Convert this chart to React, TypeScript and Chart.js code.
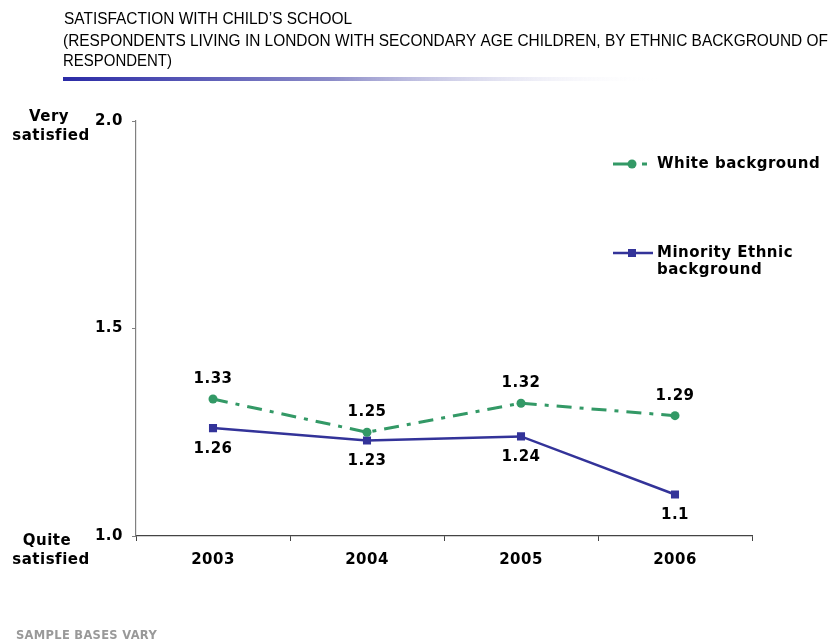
import React, { useEffect, useRef } from "react";
import { Chart, registerables } from "chart.js";

Chart.register(...registerables);

const years = ["2003", "2004", "2005", "2006"];
const whiteValues = [1.33, 1.25, 1.32, 1.29];
const minorityValues = [1.26, 1.23, 1.24, 1.1];
const yTickValues = [1.0, 1.5, 2.0];
const seriesNames = ["White background", "Minority Ethnic background"];
const legendLines = [["White background"], ["Minority Ethnic", "background"]];
const topSideLabel = ["Very", "satisfied"];
const bottomSideLabel = ["Quite", "satisfied"];
const titleLines = [
  "SATISFACTION WITH CHILD\u2019S SCHOOL",
  "(RESPONDENTS LIVING IN LONDON WITH SECONDARY AGE CHILDREN, BY ETHNIC BACKGROUND OF",
  "RESPONDENT)",
];
const footnote = "SAMPLE BASES VARY";

const GREEN = "#339966";
const BLUE = "#333399";
const BOLD = 'bold 15px "DejaVu Sans", Verdana, sans-serif';

const spacingPlugin = {
  id: "spacing",
  beforeUpdate(chart: any) {
    chart.ctx.letterSpacing = "0.5px";
  },
  beforeDraw(chart: any) {
    chart.ctx.letterSpacing = "0.5px";
  },
};

const decorPlugin = {
  id: "decor",
  afterDatasetsDraw(chart: any) {
    const ctx = chart.ctx;
    ctx.save();
    ctx.letterSpacing = "0.5px";
    ctx.font = BOLD;
    ctx.fillStyle = "#000";
    ctx.textAlign = "center";
    ctx.textBaseline = "middle";
    chart.data.datasets.forEach((ds: any, di: number) => {
      const meta = chart.getDatasetMeta(di);
      meta.data.forEach((pt: any, i: number) => {
        const off = di === 0 ? -20 : 21;
        ctx.fillText(String(ds.data[i]), pt.x, pt.y + off);
      });
    });
    ctx.restore();
  },
  afterDraw(chart: any) {
    const ctx = chart.ctx;
    ctx.save();
    // Title
    ctx.letterSpacing = "0px";
    ctx.fillStyle = "#000";
    ctx.textBaseline = "alphabetic";
    ctx.textAlign = "left";
    ctx.font = '16px "Liberation Sans", Arial, sans-serif';
    const titleSpecs = [
      { x: 64, y: 24, w: 288 },
      { x: 63, y: 46, w: 765 },
      { x: 63, y: 66, w: 109 },
    ];
    titleLines.forEach((t, i) => {
      const s = titleSpecs[i];
      const m = ctx.measureText(t).width;
      ctx.save();
      ctx.translate(s.x, s.y);
      ctx.scale(s.w / m, 1);
      ctx.fillText(t, 0, 0);
      ctx.restore();
    });
    // Gradient bar
    const g = ctx.createLinearGradient(63, 0, 660, 0);
    g.addColorStop(0, "#2a2aa6");
    g.addColorStop(0.45, "#8c8cc8");
    g.addColorStop(1, "rgba(255,255,255,0)");
    ctx.fillStyle = g;
    ctx.fillRect(63, 77, 600, 4);

    // Side labels
    ctx.letterSpacing = "0.5px";
    ctx.font = BOLD;
    ctx.fillStyle = "#000";
    ctx.textAlign = "center";
    ctx.textBaseline = "middle";
    ctx.fillText(topSideLabel[0], 49, 117);
    ctx.fillText(topSideLabel[1], 51, 136);
    ctx.fillText(bottomSideLabel[0], 47, 541);
    ctx.fillText(bottomSideLabel[1], 51, 560);

    // Legend
    ctx.textAlign = "left";
    ctx.strokeStyle = GREEN;
    ctx.fillStyle = GREEN;
    ctx.lineWidth = 3;
    ctx.beginPath();
    ctx.moveTo(613, 164);
    ctx.lineTo(629, 164);
    ctx.moveTo(642, 164);
    ctx.lineTo(647, 164);
    ctx.stroke();
    ctx.beginPath();
    ctx.arc(632, 164, 4.5, 0, Math.PI * 2);
    ctx.fill();

    ctx.strokeStyle = BLUE;
    ctx.fillStyle = BLUE;
    ctx.lineWidth = 2.5;
    ctx.beginPath();
    ctx.moveTo(613, 253);
    ctx.lineTo(653, 253);
    ctx.stroke();
    ctx.fillRect(628, 249, 8, 8);

    ctx.fillStyle = "#000";
    ctx.fillText(legendLines[0][0], 657, 164);
    ctx.fillText(legendLines[1][0], 657, 253);
    ctx.fillText(legendLines[1][1], 657, 270);

    // Footnote
    ctx.font = 'bold 11.5px "DejaVu Sans", Verdana, sans-serif';
    ctx.letterSpacing = "0.3px";
    ctx.fillStyle = "#999999";
    ctx.fillText(footnote, 16, 636);
    ctx.restore();
  },
};

export default function App() {
  const canvasRef = useRef<HTMLCanvasElement | null>(null);

  useEffect(() => {
    if (!canvasRef.current) return;
    const chart = new Chart(canvasRef.current, {
      type: "line",
      data: {
        labels: years,
        datasets: [
          {
            label: seriesNames[0],
            data: whiteValues,
            borderColor: GREEN,
            backgroundColor: GREEN,
            borderWidth: 3,
            borderDash: [15, 8, 4, 8],
            pointStyle: "circle",
            pointRadius: 4.5,
            pointBorderWidth: 0,
            tension: 0,
          },
          {
            label: seriesNames[1],
            data: minorityValues,
            borderColor: BLUE,
            backgroundColor: BLUE,
            borderWidth: 2.5,
            pointStyle: "rect",
            pointRadius: 5.7,
            pointBorderWidth: 0,
            tension: 0,
          },
        ],
      },
      options: {
        responsive: false,
        animation: false,
        events: [],
        layout: { padding: { top: 121, right: 83, bottom: 0, left: 0 } },
        plugins: {
          legend: { display: false },
          title: { display: false },
          tooltip: { enabled: false },
        },
        scales: {
          x: {
            type: "category",
            offset: true,
            grid: {
              offset: true,
              drawOnChartArea: false,
              drawTicks: true,
              tickLength: 5,
              tickColor: "#444",
              tickWidth: 1,
            },
            border: { color: "#444", width: 1.2 },
            ticks: {
              font: { family: '"DejaVu Sans", Verdana, sans-serif', size: 15, weight: "bold" },
              color: "#000",
              padding: 10,
              maxRotation: 0,
            },
            afterFit(scale: any) {
              scale.height = 108;
            },
          },
          y: {
            min: 1,
            max: 2,
            afterBuildTicks(scale: any) {
              scale.ticks = yTickValues.map((v) => ({ value: v }));
            },
            grid: {
              drawOnChartArea: false,
              drawTicks: true,
              tickLength: 4,
              tickColor: "#808080",
            },
            border: { color: "#808080", width: 1.2 },
            ticks: {
              font: { family: '"DejaVu Sans", Verdana, sans-serif', size: 15, weight: "bold" },
              color: "#000",
              padding: 9,
              callback: (v: any) => Number(v).toFixed(1),
            },
            afterFit(scale: any) {
              scale.width = 136;
            },
          },
        },
      },
      plugins: [spacingPlugin, decorPlugin],
    } as any);
    return () => chart.destroy();
  }, []);

  return (
    <div style={{ position: "absolute", left: 0, top: 0, width: 835, height: 644, background: "#fff" }}>
      <canvas ref={canvasRef} width={835} height={644} style={{ display: "block" }} />
    </div>
  );
}
